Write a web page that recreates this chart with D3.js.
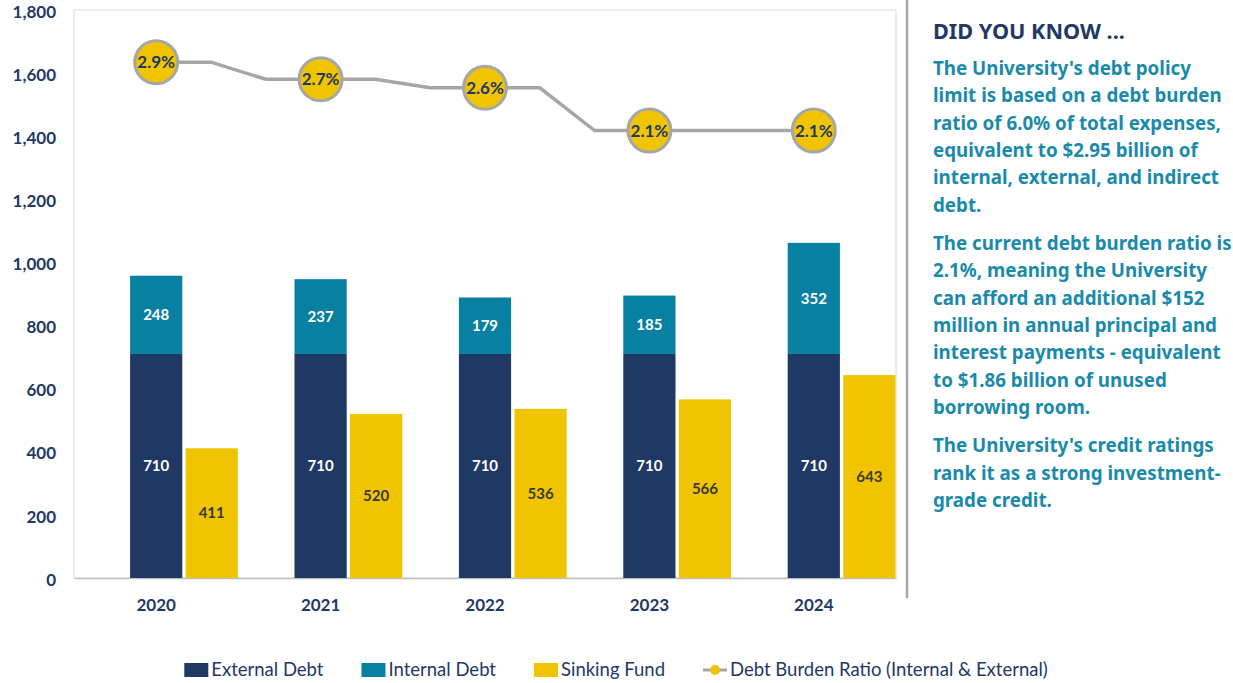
<!DOCTYPE html>
<html>
<head>
<meta charset="utf-8">
<script src="https://cdn.jsdelivr.net/npm/d3@7"></script>
<style>
  body { margin: 0; background: #fff; }
  svg { display: block; font-family: Lato, "Noto Sans", sans-serif; }
</style>
</head>
<body>
<div class="chart"></div>
<script>
// chart data
var years = ["2020", "2021", "2022", "2023", "2024"];
var externalDebt = [710, 710, 710, 710, 710];
var internalDebt = [248, 237, 179, 185, 352];
var sinkingFund = [411, 520, 536, 566, 643];
var burdenRatio = [2.9, 2.7, 2.6, 2.1, 2.1];
var yTicks = [0, 200, 400, 600, 800, 1000, 1200, 1400, 1600, 1800];
var legendNames = ["External Debt", "Internal Debt", "Sinking Fund", "Debt Burden Ratio (Internal & External)"];

var noteTitle = "DID YOU KNOW ...";
var noteParagraphs = [
  ["The University's debt policy", "limit is based on a debt burden", "ratio of 6.0% of total expenses,",
   "equivalent to $2.95 billion of", "internal, external, and indirect", "debt."],
  ["The current debt burden ratio is", "2.1%, meaning the University", "can afford an additional $152",
   "million in annual principal and", "interest payments - equivalent", "to $1.86 billion of unused",
   "borrowing room."],
  ["The University's credit ratings", "rank it as a strong investment-", "grade credit."]
];

var navy = "#1f3864";
var teal = "#0780a2";
var gold = "#f0c400";
var grey = "#a6a6a6";
var noteColor = "#1a8aaa";

var svgWidth = 1233;
var svgHeight = 683;

var margin = { top: 10, right: 337, bottom: 105, left: 74 };
var width = svgWidth - margin.left - margin.right;
var height = svgHeight - margin.top - margin.bottom;

var svg = d3.select(".chart")
  .append("svg")
  .attr("width", svgWidth)
  .attr("height", svgHeight);

var chartGroup = svg.append("g")
  .attr("transform", `translate(${margin.left}, ${margin.top})`);

// scales
var xBand = d3.scaleBand().domain(years).range([0, width]).padding(0);
var xSub = d3.scaleBand().domain(["gap", "debt", "fund"]).range([0, xBand.bandwidth()]).paddingInner(0.06).paddingOuter(0.01);
var yLinearScale = d3.scaleLinear().domain([0, 1800]).range([height, 0]);
// hidden secondary axis for the ratio line
var yRatio = d3.scaleLinear().domain([-3.13, 3.51]).range([height, 0]);

// plot area frame
chartGroup.append("rect")
  .attr("width", width)
  .attr("height", height)
  .attr("fill", "none")
  .attr("stroke", "#d9d9d9")
  .attr("stroke-width", 1);

// y axis labels
var leftAxis = d3.axisLeft(yLinearScale).tickValues(yTicks).tickSize(0).tickPadding(18).tickFormat(d3.format(","));
var yAxisG = chartGroup.append("g").call(leftAxis);
yAxisG.select(".domain").remove();
yAxisG.selectAll("text")
  .attr("dy", "0.42em")
  .attr("fill", navy)
  .attr("font-size", 17)
  .attr("font-weight", 700)
  .attr("font-family", "Lato, sans-serif");

// x axis
var bottomAxis = d3.axisBottom(xBand).tickSize(0).tickPadding(21);
var xAxisG = chartGroup.append("g")
  .attr("transform", `translate(0, ${height})`)
  .call(bottomAxis);
xAxisG.select(".domain").attr("stroke", "#bfbfbf").attr("stroke-width", 1.5);
xAxisG.selectAll("text")
  .attr("fill", navy)
  .attr("font-size", 17)
  .attr("font-weight", 700)
  .attr("font-family", "Lato, sans-serif");

var rows = years.map(function(y, i) {
  return { year: y, ext: externalDebt[i], int: internalDebt[i], fund: sinkingFund[i], ratio: burdenRatio[i] };
});

// stacked debt bars
var debtX = d => xBand(d.year) + xSub("debt");
chartGroup.selectAll(".ext").data(rows).enter().append("rect")
  .attr("class", "ext")
  .attr("x", debtX)
  .attr("width", xSub.bandwidth())
  .attr("y", d => yLinearScale(d.ext))
  .attr("height", d => height - yLinearScale(d.ext))
  .attr("fill", navy);

chartGroup.selectAll(".int").data(rows).enter().append("rect")
  .attr("class", "int")
  .attr("x", debtX)
  .attr("width", xSub.bandwidth())
  .attr("y", d => yLinearScale(d.ext + d.int))
  .attr("height", d => yLinearScale(d.ext) - yLinearScale(d.ext + d.int))
  .attr("fill", teal);

chartGroup.selectAll(".fund").data(rows).enter().append("rect")
  .attr("class", "fund")
  .attr("x", d => xBand(d.year) + xSub("fund"))
  .attr("width", xSub.bandwidth())
  .attr("y", d => yLinearScale(d.fund))
  .attr("height", d => height - yLinearScale(d.fund))
  .attr("fill", gold);

// bar labels
function barLabel(cls, xf, yf, txt, color) {
  chartGroup.selectAll("." + cls).data(rows).enter().append("text")
    .attr("class", cls)
    .attr("x", xf)
    .attr("y", yf)
    .attr("dy", "0.35em")
    .attr("text-anchor", "middle")
    .attr("font-size", 15)
    .attr("font-weight", 700)
    .attr("fill", color)
    .text(txt);
}
var debtMid = d => debtX(d) + xSub.bandwidth() / 2;
barLabel("extLbl", debtMid, d => yLinearScale(d.ext / 2), d => d.ext, "#ffffff");
barLabel("intLbl", debtMid, d => yLinearScale(d.ext + d.int / 2), d => d.int, "#ffffff");
barLabel("fundLbl", d => xBand(d.year) + xSub("fund") + xSub.bandwidth() / 2, d => yLinearScale(d.fund / 2), d => d.fund, "#3a3a3a");

// ratio line (flat shoulders either side of each point)
var center = d => xBand(d.year) + xBand.bandwidth() / 2;
var linePts = [];
rows.forEach(function(d, i) {
  var c = center(d), yv = yRatio(d.ratio), off = xBand.bandwidth() / 3;
  if (i > 0) linePts.push([c - off, yv]);
  linePts.push([c, yv]);
  if (i < rows.length - 1) linePts.push([c + off, yv]);
});
chartGroup.append("path")
  .attr("d", d3.line()(linePts))
  .attr("fill", "none")
  .attr("stroke", grey)
  .attr("stroke-width", 3.5);

chartGroup.selectAll(".dot").data(rows).enter().append("circle")
  .attr("class", "dot")
  .attr("cx", center)
  .attr("cy", d => yRatio(d.ratio))
  .attr("r", 21.5)
  .attr("fill", gold)
  .attr("stroke", grey)
  .attr("stroke-width", 3);

chartGroup.selectAll(".dotLbl").data(rows).enter().append("text")
  .attr("class", "dotLbl")
  .attr("x", center)
  .attr("y", d => yRatio(d.ratio))
  .attr("dy", "0.36em")
  .attr("text-anchor", "middle")
  .attr("font-size", 17)
  .attr("font-weight", 700)
  .attr("fill", navy)
  .text(d => d.ratio.toFixed(1) + "%");

// separator
svg.append("line")
  .attr("x1", 907).attr("x2", 907)
  .attr("y1", 0).attr("y2", 598)
  .attr("stroke", grey)
  .attr("stroke-width", 2.5);

// did you know panel
var note = svg.append("g").attr("transform", "translate(933, 0)")
  .attr("font-family", "'Noto Sans', sans-serif");
var title = note.append("text")
  .attr("y", 39)
  .attr("font-size", 19)
  .attr("font-weight", 700)
  .attr("fill", navy)
  .text(noteTitle);
title.attr("font-size", 19 * 192 / title.node().getComputedTextLength());

var noteText = note.append("text")
  .attr("font-size", 18)
  .attr("font-weight", 700)
  .attr("fill", noteColor);
var yPos = 75;
noteParagraphs.forEach(function(p, pi) {
  if (pi > 0) yPos += 38.5 - 27.3;
  p.forEach(function(line) {
    noteText.append("tspan").attr("x", 0).attr("y", yPos).text(line);
    yPos += 27.3;
  });
});
// fit the longest line to the panel width
var maxLen = d3.max(noteText.selectAll("tspan").nodes(), n => n.getComputedTextLength());
noteText.attr("font-size", 18 * 299 / maxLen);

// legend
var legend = svg.append("g").attr("font-size", 18.5).attr("fill", navy);
var legendColors = [navy, teal, gold, null];
var lx = 0;
legendNames.forEach(function(name, i) {
  var g = legend.append("g").attr("transform", `translate(${lx}, 670)`);
  if (legendColors[i]) {
    g.append("rect").attr("x", 0).attr("y", -7).attr("width", 24).attr("height", 14).attr("fill", legendColors[i]);
  } else {
    g.append("line").attr("x1", 0).attr("x2", 24).attr("y1", 0).attr("y2", 0).attr("stroke", grey).attr("stroke-width", 3);
    g.append("circle").attr("cx", 12).attr("cy", 0).attr("r", 5).attr("fill", gold);
  }
  var t = g.append("text").attr("x", 27).attr("dy", "0.35em").attr("fill", navy).text(name);
  lx += 27 + t.node().getComputedTextLength() + 38;
});
var legendW = lx - 38;
legend.attr("transform", `translate(${616 - legendW / 2}, 0)`);
</script>
</body>
</html>
